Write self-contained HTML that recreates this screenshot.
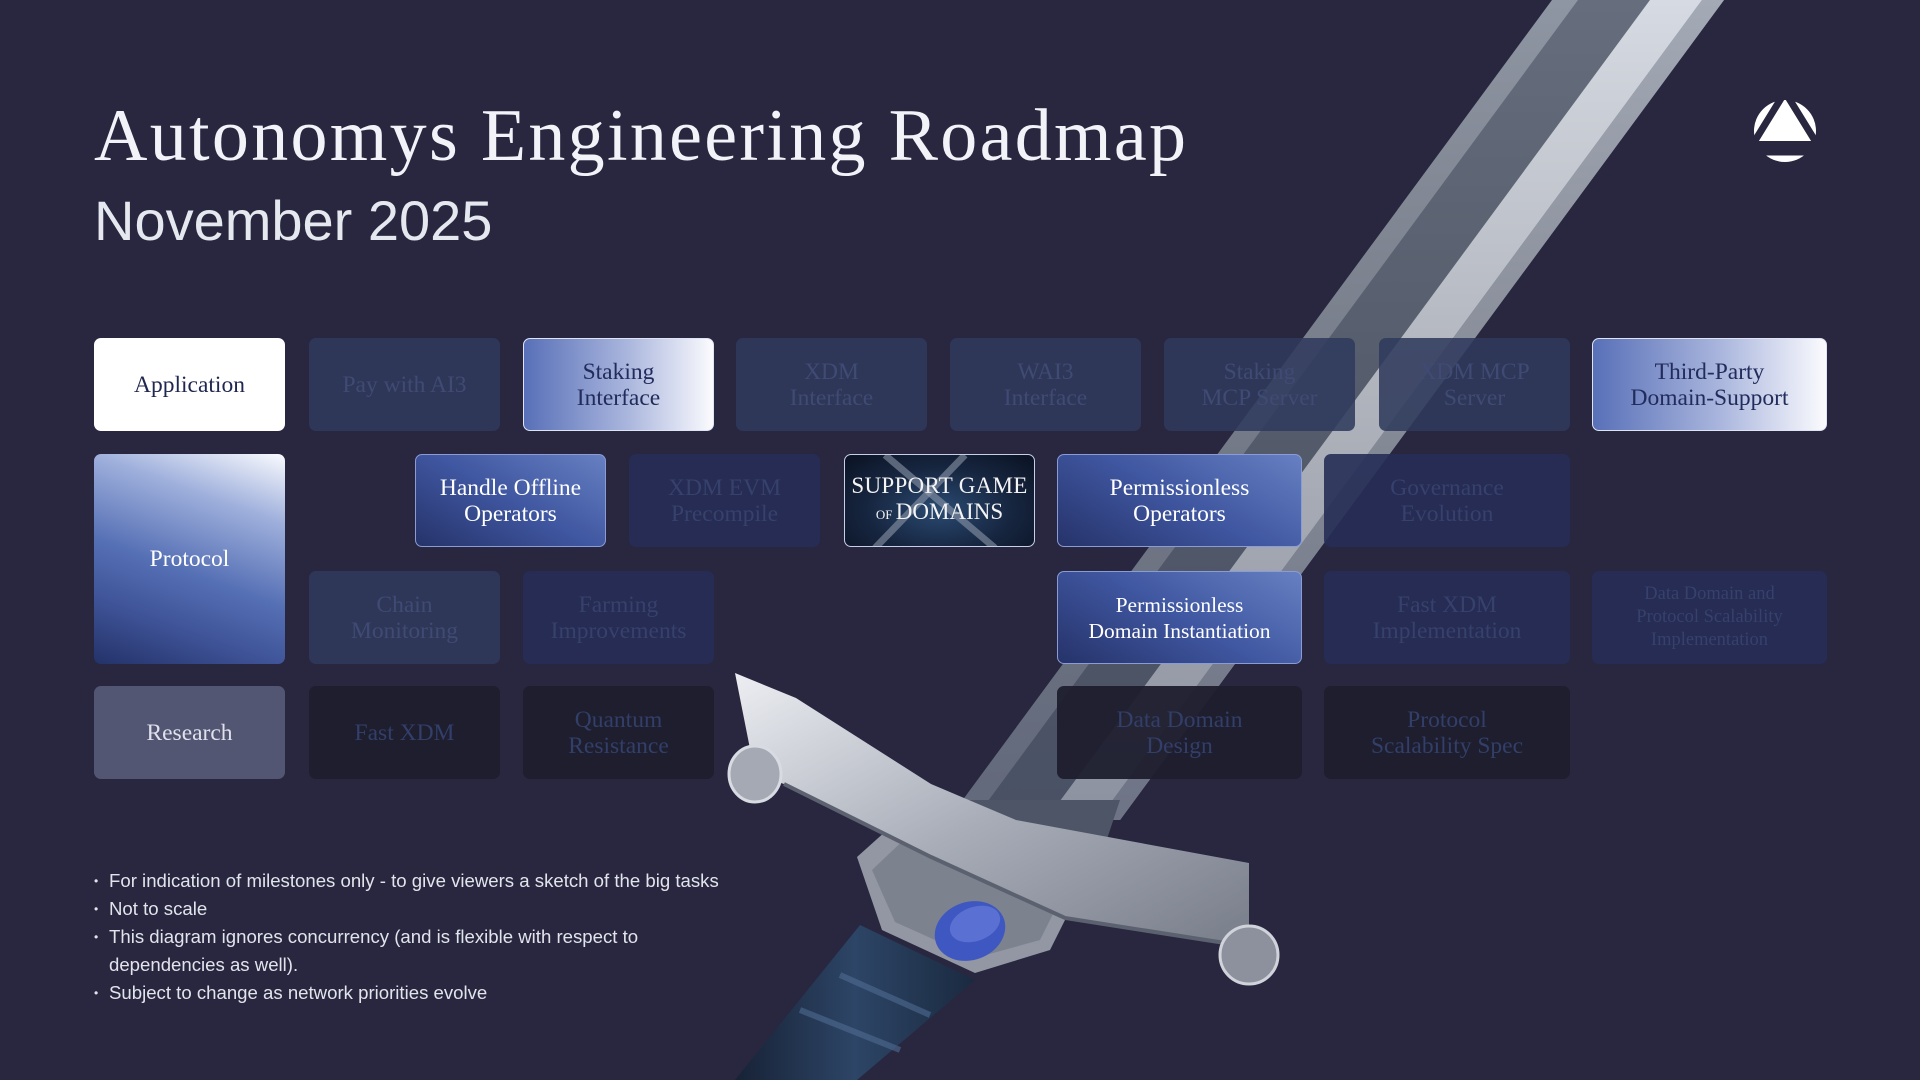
<!DOCTYPE html>
<html><head><meta charset="utf-8">
<style>
*{margin:0;padding:0;box-sizing:border-box}
body{width:1920px;height:1080px;background:#28273f;overflow:hidden;position:relative;font-family:"Liberation Serif",serif}
.t1{position:absolute;left:94px;top:94px;font-size:74px;color:#f2f3f8;white-space:nowrap;letter-spacing:2.3px}
.t2{position:absolute;left:94px;top:188px;font-family:"Liberation Sans",sans-serif;font-size:56px;color:#e6e8f0;white-space:nowrap}
.b{position:absolute;height:93px;border-radius:7px;display:flex;align-items:center;justify-content:center;text-align:center;font-size:23.5px;line-height:26px}
.d1{background:rgba(48,58,92,0.88);color:#3f4b74}
.d2{background:rgba(38,46,86,0.9);color:#36426c}
.d4{background:rgba(30,29,46,0.95);color:#323f69}
.lite{background:linear-gradient(90deg,#5870b8,#aab6dd 55%,#fbfbfe);color:#222c5c;border:1px solid #dfe4f5}
.mid{background:linear-gradient(30deg,#26336a 0%,#3f56a0 50%,#6680c2 100%);color:#fff;border:1px solid #8a9bd6}
ul{position:absolute;left:94px;top:867px;list-style:none;font-family:"Liberation Sans",sans-serif;font-size:18.6px;line-height:28px;color:#e2e4ec;width:700px}
li{padding-left:15px;position:relative}
li:before{content:"•";position:absolute;left:0;font-size:12px}
</style></head><body>
<svg style="position:absolute;left:0;top:0" width="1920" height="1080">
<defs>
<linearGradient id="bl" x1="0" y1="0" x2="0" y2="1"><stop offset="0" stop-color="#000" stop-opacity="0"/><stop offset="1" stop-color="#1e2540" stop-opacity="0.4"/></linearGradient>
</defs>
<polygon points="1552,0 1724,0 1120,820 948,820" fill="#8f96a3"/>
<polygon points="1578,0 1650,0 1046,820 974,820" fill="#666e7e"/>
<polygon points="1650,0 1702,0 1098,820 1046,820" fill="#d6dae2"/>
<polygon points="1702,0 1724,0 1120,820 1098,820" fill="#a3a9b5"/>
<polygon points="1552,0 1724,0 1120,820 948,820" fill="url(#bl)"/>
</svg>
<div class="t1">Autonomys Engineering Roadmap</div>
<div class="t2">November 2025</div>
<svg style="position:absolute;left:1750px;top:98px" width="70" height="68" viewBox="0 0 70 68">
<circle cx="35" cy="33" r="31" fill="#fff"/>
<polygon points="35,-6 -2,54 72,54" fill="none" stroke="#28273f" stroke-width="7"/>
<polygon points="35,13 20,42 50,42" fill="#fff"/>
<rect x="0" y="43" width="70" height="8" fill="#28273f"/>
</svg>

<div class="b" style="left:94px;top:338px;width:191px;background:#fff;color:#1f2750">Application</div>
<div class="b d1" style="left:309px;top:338px;width:191px">Pay with AI3</div>
<div class="b lite" style="left:523px;top:338px;width:191px">Staking<br>Interface</div>
<div class="b d1" style="left:736px;top:338px;width:191px">XDM<br>Interface</div>
<div class="b d1" style="left:950px;top:338px;width:191px">WAI3<br>Interface</div>
<div class="b d1" style="left:1164px;top:338px;width:191px">Staking<br>MCP Server</div>
<div class="b d1" style="left:1379px;top:338px;width:191px">XDM MCP<br>Server</div>
<div class="b lite" style="left:1592px;top:338px;width:235px">Third-Party<br>Domain-Support</div>

<div class="b" style="left:94px;top:454px;width:191px;height:210px;background:linear-gradient(200deg,#fafbfe 0%,#9fb0dc 25%,#5670b5 55%,#40559a 75%,#243269 100%);color:#fff">Protocol</div>
<div class="b mid" style="left:415px;top:454px;width:191px">Handle Offline<br>Operators</div>
<div class="b d2" style="left:629px;top:454px;width:191px">XDM EVM<br>Precompile</div>
<div class="b" style="left:844px;top:454px;width:191px;border:1px solid #c8cfe8;background:radial-gradient(ellipse at 50% 60%,#2a4a72 0%,#16253f 55%,#0a1222 100%);color:#f4f4f4;flex-direction:column;overflow:hidden">
<svg style="position:absolute;left:0;top:0" width="191" height="93"><line x1="40" y1="0" x2="150" y2="93" stroke="#8d97a8" stroke-width="7" opacity="0.6"/><line x1="120" y1="0" x2="30" y2="93" stroke="#8d97a8" stroke-width="7" opacity="0.6"/></svg>
<span style="position:relative;font-size:23px;line-height:26px;letter-spacing:0.3px">SUPPORT GAME</span><span style="position:relative;font-size:23px;line-height:26px"><small style="font-size:13px">OF </small>DOMAINS</span></div>
<div class="b mid" style="left:1057px;top:454px;width:245px">Permissionless<br>Operators</div>
<div class="b d2" style="left:1324px;top:454px;width:246px">Governance<br>Evolution</div>

<div class="b d1" style="left:309px;top:571px;width:191px">Chain<br>Monitoring</div>
<div class="b d2" style="left:523px;top:571px;width:191px">Farming<br>Improvements</div>
<div class="b mid" style="left:1057px;top:571px;width:245px;font-size:21.5px">Permissionless<br>Domain Instantiation</div>
<div class="b d2" style="left:1324px;top:571px;width:246px">Fast XDM<br>Implementation</div>
<div class="b d2" style="left:1592px;top:571px;width:235px;font-size:18.5px;line-height:23px">Data Domain and<br>Protocol Scalability<br>Implementation</div>

<div class="b" style="left:94px;top:686px;width:191px;background:#535673;color:#dfe1ec">Research</div>
<div class="b d4" style="left:309px;top:686px;width:191px">Fast XDM</div>
<div class="b d4" style="left:523px;top:686px;width:191px">Quantum<br>Resistance</div>
<div class="b d4" style="left:1057px;top:686px;width:245px">Data Domain<br>Design</div>
<div class="b d4" style="left:1324px;top:686px;width:246px">Protocol<br>Scalability Spec</div>

<svg style="position:absolute;left:0;top:0" width="1920" height="1080">
<defs>
<linearGradient id="gd" x1="0" y1="0" x2="1" y2="1"><stop offset="0" stop-color="#eceef2"/><stop offset="0.5" stop-color="#a8adb8"/><stop offset="1" stop-color="#767b88"/></linearGradient>
<linearGradient id="gr" x1="0" y1="0" x2="1" y2="0"><stop offset="0" stop-color="#172236"/><stop offset="0.5" stop-color="#2d4566"/><stop offset="1" stop-color="#1a2a40"/></linearGradient>
</defs>
<polygon points="860,925 975,980 857,1080 735,1080" fill="url(#gr)"/>
<path d="M800,1010 L900,1050 M840,975 L930,1015" stroke="#4f6c92" stroke-width="6" opacity="0.6"/>
<polygon points="948,800 1120,800 1100,860 940,840" fill="#4e5566"/>
<polygon points="857,857 925,796 1090,870 1050,950 975,973 882,930" fill="#9297a3"/>
<polygon points="872,870 930,815 1070,880 1040,940 975,958 895,922" fill="#7d828f"/>
<polygon points="735,673 796,698 931,784 1016,820 1249,863 1249,955 1225,943 1065,918 931,857 784,784 755,774" fill="url(#gd)"/>
<path d="M784,784 L931,857 L1065,918 L1225,943" stroke="#5c6170" stroke-width="4" fill="none"/>
<ellipse cx="755" cy="774" rx="26" ry="28" fill="#a4a9b4" stroke="#d8dbe2" stroke-width="3"/>
<ellipse cx="1249" cy="955" rx="29" ry="29" fill="#8c919d" stroke="#d0d3da" stroke-width="3"/>
<ellipse cx="970" cy="931" rx="36" ry="29" fill="#3f57c0" transform="rotate(-20 970 931)"/>
<ellipse cx="975" cy="924" rx="26" ry="17" fill="#5a70d2" transform="rotate(-20 975 924)"/>
</svg>

<ul>
<li>For indication of milestones only - to give viewers a sketch of the big tasks</li>
<li>Not to scale</li>
<li>This diagram ignores concurrency (and is flexible with respect to<br>dependencies as well).</li>
<li>Subject to change as network priorities evolve</li>
</ul>
</body></html>
